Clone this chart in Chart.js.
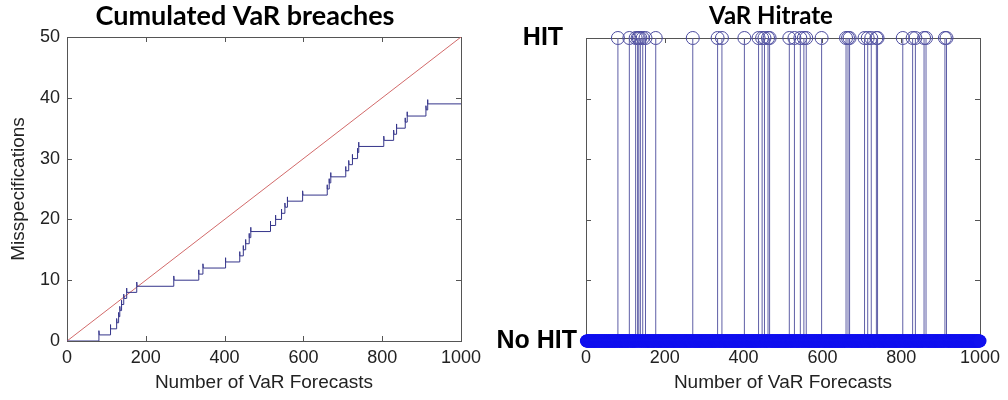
<!DOCTYPE html>
<html>
<head>
<meta charset="utf-8">
<title>VaR backtest</title>
<script src="https://cdn.jsdelivr.net/npm/chart.js@4.4.0/dist/chart.umd.min.js"></script>
<style>
html,body{margin:0;padding:0;background:#fff;}
#wrap{position:relative;width:1008px;height:400px;overflow:hidden;}
#cumChart{position:absolute;left:0;top:0;}
#hitChart{position:absolute;left:480px;top:0;}
</style>
</head>
<body>
<div id="wrap">
<canvas id="cumChart" width="490" height="400"></canvas>
<canvas id="hitChart" width="582" height="400"></canvas>
</div>
<script>
// ===============================
// DATA
// ===============================

// forecast numbers where the VaR was breached
const hitDays = [
    81, 110, 126, 131, 134, 138, 144, 151, 177, 271,
    334, 345, 402, 438, 447, 453, 462, 466, 516, 529,
    544, 553, 559, 598, 660, 665, 669, 707, 715, 724,
    737, 740, 804, 829, 836, 858, 863, 911, 915
];

const totalForecasts = 1000;

// expected breaches at the end of the sample (5% VaR)
const expectedLine = [0, 50];

const xTickStep = 200;
const leftYMax = 50;
const leftYStep = 10;
const rightYLabels = {0: "No HIT", 1: "HIT  "};

// little spike drawn on every step, as in the original plot
const SPIKE = 0.7;

// ===============================
// BUILD SERIES
// ===============================

const cumPoints = [{x: 0, y: 0}];

hitDays.forEach((d, i) => {

    cumPoints.push({x: d, y: i});
    cumPoints.push({x: d, y: i + 1 + SPIKE});
    cumPoints.push({x: d + 1, y: i + 1});

});

cumPoints.push({x: totalForecasts, y: hitDays.length});

const stemPoints = [];
const hitPoints = [];

hitDays.forEach(d => {

    stemPoints.push({x: d, y: 0});
    stemPoints.push({x: d, y: 1});
    stemPoints.push({x: d, y: null});

    hitPoints.push({x: d, y: 1});

});

const noHitPoints = [];

for (let t = 1; t <= totalForecasts; t++) {

    if (!hitDays.includes(t)) noHitPoints.push({x: t, y: 0});

}

// ===============================
// FRAME + INWARD TICKS
// ===============================

const framePlugin = {

    id: "frame",

    beforeDatasetsDraw(chart) {

        const ctx = chart.ctx;
        const a = chart.chartArea;
        const xs = chart.scales.x;
        const ys = chart.scales.y;
        const len = 5;

        ctx.save();
        ctx.strokeStyle = "#555";
        ctx.lineWidth = 1;

        ctx.strokeRect(Math.round(a.left) + 0.5, Math.round(a.top) + 0.5,
            Math.round(a.right - a.left), Math.round(a.bottom - a.top));

        ctx.beginPath();

        xs.ticks.forEach(t => {
            const px = Math.round(xs.getPixelForValue(t.value)) + 0.5;
            ctx.moveTo(px, a.bottom); ctx.lineTo(px, a.bottom - len);
            ctx.moveTo(px, a.top); ctx.lineTo(px, a.top + len);
        });

        ys.ticks.forEach(t => {
            const py = Math.round(ys.getPixelForValue(t.value)) + 0.5;
            ctx.moveTo(a.left, py); ctx.lineTo(a.left + len, py);
            ctx.moveTo(a.right, py); ctx.lineTo(a.right - len, py);
        });

        ctx.stroke();
        ctx.restore();

    }

};

// ===============================
// COMMON OPTIONS
// ===============================

const tickFont = {family: "Liberation Sans", size: 18};
const axisTitleFont = {family: "Liberation Sans", size: 19};

function xAxis() {

    return {
        type: "linear",
        min: 0,
        max: totalForecasts,
        grid: {display: false, drawTicks: false},
        border: {display: false},
        ticks: {stepSize: xTickStep, color: "#222", font: tickFont, padding: 6,
            maxRotation: 0, callback: v => String(v)},
        title: {display: true, text: "Number of VaR Forecasts", color: "#222",
            font: axisTitleFont, padding: {top: 0, bottom: 6}},
        afterFit: s => { s.height = 59; }
    };

}

// empty right axis, only keeps room on the right of the box
function spacerAxis(w) {

    return {
        position: "right",
        grid: {display: false, drawTicks: false},
        border: {display: false},
        ticks: {display: false},
        afterFit: s => { s.width = w; }
    };

}

// ===============================
// LEFT CHART
// ===============================

new Chart(document.getElementById("cumChart"), {

    type: "scatter",

    data: {
        datasets: [{
            label: "Cumulated breaches",
            data: cumPoints,
            showLine: true,
            borderColor: "#34348a",
            borderWidth: 1,
            pointRadius: 0
        }, {
            label: "Expected",
            data: [{x: 0, y: expectedLine[0]}, {x: totalForecasts, y: expectedLine[1]}],
            showLine: true,
            borderColor: "#d26a6a",
            borderWidth: 1,
            pointRadius: 0
        }]
    },

    options: {
        responsive: false,
        animation: false,
        events: [],
        layout: {padding: 0},
        plugins: {
            legend: {display: false},
            tooltip: {enabled: false},
            title: {display: true, text: "Cumulated VaR breaches", color: "#000",
                font: {family: "Lato", size: 27, weight: "bold"},
                padding: {top: 0, bottom: 4.6}}
        },
        scales: {
            x: xAxis(),
            y: {
                min: 0,
                max: leftYMax,
                grid: {display: false, drawTicks: false},
                border: {display: false},
                ticks: {stepSize: leftYStep, color: "#222", font: tickFont, padding: 7},
                title: {display: true, text: "Misspecifications", color: "#222",
                    font: axisTitleFont, padding: {top: 7, bottom: 0}},
                afterFit: s => { s.width = 67; }
            },
            yRight: spacerAxis(29)
        }
    },

    plugins: [framePlugin]

});

// ===============================
// RIGHT CHART
// ===============================

new Chart(document.getElementById("hitChart"), {

    type: "scatter",

    data: {
        datasets: [{
            label: "No HIT",
            data: noHitPoints,
            pointRadius: 6.5,
            pointBackgroundColor: "#1010ee",
            pointBorderColor: "#1010ee",
            pointBorderWidth: 0,
            clip: false
        }, {
            label: "Stems",
            data: stemPoints,
            showLine: true,
            spanGaps: false,
            borderColor: "#5e5ea6",
            borderWidth: 1,
            pointRadius: 0
        }, {
            label: "HIT",
            data: hitPoints,
            pointRadius: 6.5,
            pointBackgroundColor: "rgba(0,0,0,0)",
            pointBorderColor: "#4a4a9e",
            pointBorderWidth: 1,
            clip: false
        }]
    },

    options: {
        responsive: false,
        animation: false,
        events: [],
        layout: {padding: 0},
        plugins: {
            legend: {display: false},
            tooltip: {enabled: false},
            title: {display: true, text: "VaR Hitrate", color: "#000",
                font: {family: "Lato", size: 24, weight: "bold"},
                padding: {top: 2, bottom: 7.2}}
        },
        scales: {
            x: xAxis(),
            y: {
                min: 0,
                max: 1,
                grid: {display: false, drawTicks: false},
                border: {display: false},
                ticks: {
                    stepSize: 0.2,
                    color: "#000",
                    font: {family: "Liberation Sans", size: 25, weight: "bold"},
                    padding: 9,
                    autoSkip: false,
                    callback: v => rightYLabels[v] || ""
                },
                afterFit: s => { s.width = 106; }
            },
            yRight: spacerAxis(82)
        }
    },

    plugins: [framePlugin]

});
</script>
</body>
</html>
